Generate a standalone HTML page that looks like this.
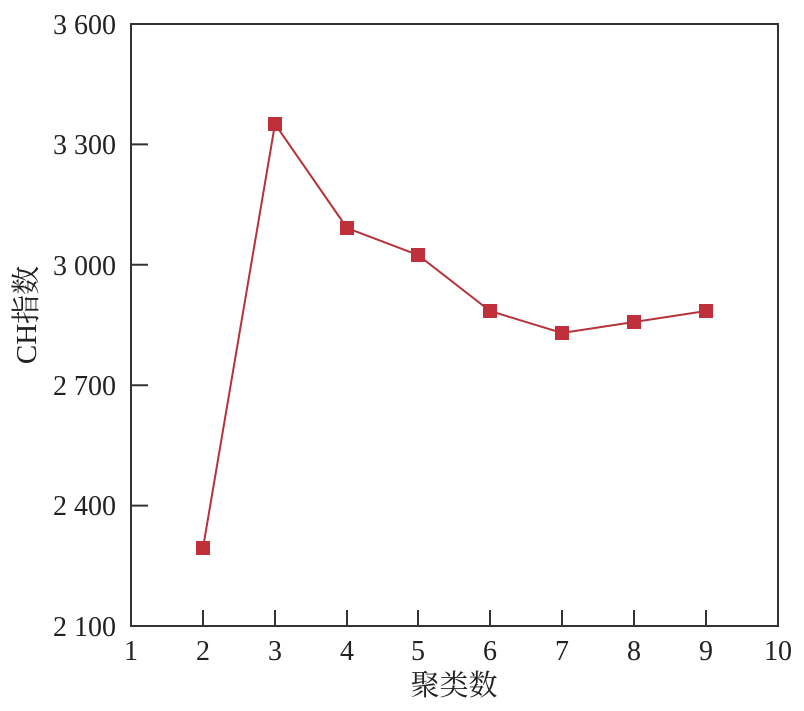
<!DOCTYPE html><html><head><style>body{margin:0;background:#fff}</style></head><body>
<svg width="804" height="706" xmlns="http://www.w3.org/2000/svg" font-family="Liberation Serif, Noto Serif CJK SC, serif" fill="#222">
<rect x="131" y="24" width="647" height="602" fill="none" stroke="#333" stroke-width="2"/>
<g stroke="#333" stroke-width="2">
<line x1="131" y1="144.4" x2="148" y2="144.4"/><line x1="131" y1="264.8" x2="148" y2="264.8"/><line x1="131" y1="385.2" x2="148" y2="385.2"/><line x1="131" y1="505.6" x2="148" y2="505.6"/>
<line x1="203" y1="626" x2="203" y2="610"/><line x1="275" y1="626" x2="275" y2="610"/><line x1="347" y1="626" x2="347" y2="610"/><line x1="418" y1="626" x2="418" y2="610"/><line x1="490" y1="626" x2="490" y2="610"/><line x1="562" y1="626" x2="562" y2="610"/><line x1="634" y1="626" x2="634" y2="610"/><line x1="706" y1="626" x2="706" y2="610"/>
</g>
<g font-size="28" text-anchor="end">
<text x="116" y="34">3 600</text><text x="116" y="154">3 300</text><text x="116" y="275">3 000</text><text x="116" y="395">2 700</text><text x="116" y="515">2 400</text><text x="116" y="636">2 100</text>
</g>
<g font-size="28" text-anchor="middle">
<text x="131" y="660">1</text><text x="203" y="660">2</text><text x="275" y="660">3</text><text x="347" y="660">4</text><text x="418" y="660">5</text><text x="490" y="660">6</text><text x="562" y="660">7</text><text x="634" y="660">8</text><text x="706" y="660">9</text><text x="778" y="660">10</text>
<text x="454" y="695" font-size="29">聚类数</text>
<text transform="translate(36,315) rotate(-90)" font-size="29">CH指数</text>
</g>
<polyline points="203,548 275,124 347,228 418,255 490,311 562,333 634,322 706,311" fill="none" stroke="#b5323a" stroke-width="2"/>
<g fill="#c0303a">
<rect x="196" y="541" width="14" height="14"/><rect x="268" y="117" width="14" height="14"/><rect x="340" y="221" width="14" height="14"/><rect x="411" y="248" width="14" height="14"/><rect x="483" y="304" width="14" height="14"/><rect x="555" y="326" width="14" height="14"/><rect x="627" y="315" width="14" height="14"/><rect x="699" y="304" width="14" height="14"/>
</g>
</svg>
</body></html>
